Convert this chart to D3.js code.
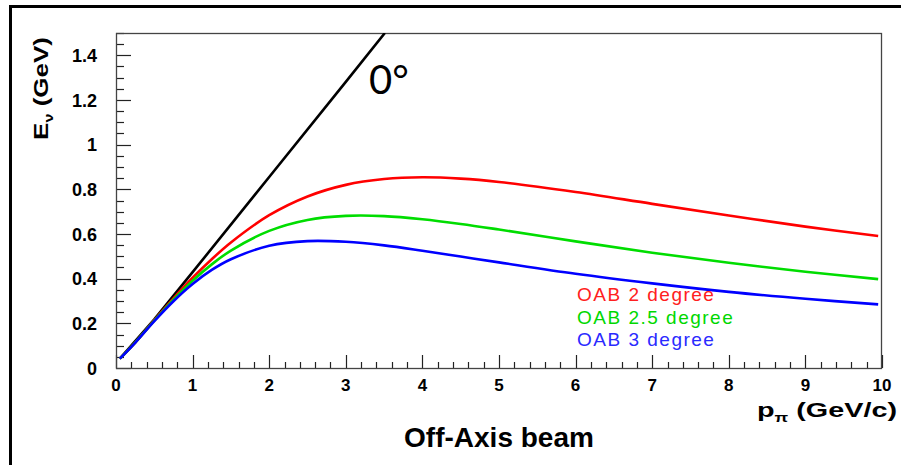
<!DOCTYPE html>
<html>
<head>
<meta charset="utf-8">
<script src="https://cdn.jsdelivr.net/npm/d3@7"></script>
<style>
  html, body { margin: 0; padding: 0; background: #fff; }
  svg { display: block; }
  text { font-family: "Liberation Sans", Arial, Helvetica, sans-serif; }
</style>
</head>
<body>
<svg id="chart" width="901" height="465"></svg>
<script>
// ---- data ----
const pPion = [0.05, 0.25, 0.5, 0.75, 1, 1.25, 1.5, 2, 2.5, 3, 3.5, 4, 4.5, 5, 6, 7, 8, 9, 9.95];
const oab2deg  = [0.042, 0.114, 0.214, 0.312, 0.404, 0.487, 0.562, 0.684, 0.768, 0.820, 0.846, 0.854, 0.848, 0.833, 0.788, 0.735, 0.683, 0.633, 0.591];
const oab25deg = [0.042, 0.114, 0.212, 0.306, 0.391, 0.464, 0.526, 0.614, 0.663, 0.681, 0.680, 0.666, 0.645, 0.620, 0.567, 0.516, 0.471, 0.431, 0.398];
const oab3deg  = [0.042, 0.113, 0.210, 0.299, 0.376, 0.439, 0.487, 0.547, 0.568, 0.565, 0.549, 0.525, 0.499, 0.473, 0.422, 0.379, 0.341, 0.310, 0.285];
const onAxisP = [0.05, 0.5, 1, 2, 3, 3.51];
const onAxisE = [0.042, 0.2175, 0.429, 0.855, 1.281, 1.500];
const xTicks = [0, 1, 2, 3, 4, 5, 6, 7, 8, 9, 10];
const yTicks = [0, 0.2, 0.4, 0.6, 0.8, 1, 1.2, 1.4];
const legendLabels = ["OAB 2 degree", "OAB 2.5 degree", "OAB 3 degree"];
const seriesColors = ["#ff0000", "#00dd00", "#0000ff"];
const legendColors = ["#ff2020", "#00d800", "#2a2aff"];

const svg = d3.select("#chart");
const L = 116, R = 882, T = 33, B = 368;
const x = d3.scaleLinear().domain([0, 10]).range([L, R]);
const y = d3.scaleLinear().domain([0, 1.5]).range([B, T]);

// outer frame lines (top and left)
svg.append("line").attr("x1", 9).attr("x2", 901).attr("y1", 6.5).attr("y2", 6.5)
  .attr("stroke", "#000").attr("stroke-width", 3);
svg.append("line").attr("x1", 10.5).attr("x2", 10.5).attr("y1", 5).attr("y2", 465)
  .attr("stroke", "#000").attr("stroke-width", 3);

// clip
svg.append("defs").append("clipPath").attr("id", "clip")
  .append("rect").attr("x", L).attr("y", T).attr("width", R - L).attr("height", B - T);

// ticks (inward) – x axis
const xMinor = d3.range(0, 10.001, 0.2);
const gx = svg.append("g");
gx.selectAll("line").data(xMinor).join("line")
  .attr("x1", d => Math.round(x(d)) + 0.5).attr("x2", d => Math.round(x(d)) + 0.5)
  .attr("y1", B).attr("y2", d => {
    const isMajor = Math.abs(d - Math.round(d)) < 1e-6;
    return B - (isMajor ? 13 : 6);
  })
  .attr("stroke", "#222").attr("stroke-width", 1.2);
gx.selectAll("text").data(xTicks).join("text")
  .attr("x", d => x(d)).attr("y", 391)
  .attr("text-anchor", "middle").attr("font-size", 17).attr("font-weight", "bold")
  .text(d => d3.format("d")(d));

// ticks (inward) – y axis
const yMinor = d3.range(0, 1.5001, 0.05);
const gy = svg.append("g");
gy.selectAll("line").data(yMinor).join("line")
  .attr("y1", d => Math.round(y(d)) + 0.5).attr("y2", d => Math.round(y(d)) + 0.5)
  .attr("x1", L).attr("x2", d => {
    const isMajor = Math.abs(d / 0.2 - Math.round(d / 0.2)) < 1e-6;
    return L + (isMajor ? 15 : 8);
  })
  .attr("stroke", "#222").attr("stroke-width", 1.2);
gy.selectAll("text").data(yTicks).join("text")
  .attr("x", 97).attr("y", d => y(d) + 6.5)
  .attr("text-anchor", "end").attr("font-size", 18).attr("font-weight", "bold")
  .text(d => d3.format("")(d));

// frame of plot
svg.append("rect").attr("x", L + 0.5).attr("y", T + 0.5).attr("width", R - L - 1).attr("height", B - T)
  .attr("fill", "none").attr("stroke", "#444").attr("stroke-width", 1.3);

// curves
const line = d3.line().x(d => x(d[0])).y(d => y(d[1])).curve(d3.curveCatmullRom.alpha(0.5));
const plot = svg.append("g").attr("clip-path", "url(#clip)");
plot.append("path").datum(d3.zip(onAxisP, onAxisE))
  .attr("d", d3.line().x(d => x(d[0])).y(d => y(d[1])))
  .attr("fill", "none").attr("stroke", "#000").attr("stroke-width", 2.6);
[oab2deg, oab25deg, oab3deg].forEach((vals, i) => {
  plot.append("path").datum(d3.zip(pPion, vals))
    .attr("d", line)
    .attr("fill", "none").attr("stroke", seriesColors[i]).attr("stroke-width", 2.6);
});

// 0° label
svg.append("text").attr("x", 369).attr("y", 94)
  .style("font-family", "Lato, 'Open Sans', sans-serif").attr("font-size", 40)
  .text("0°");

// legend
legendLabels.forEach((t, i) => {
  svg.append("text").attr("x", 577).attr("y", 301 + i * 22.5)
    .attr("font-size", 19).attr("fill", legendColors[i])
    .attr("letter-spacing", 1.5)
    .text(t);
});

// axis titles (stretched to the widths seen in the picture)
const xtG = svg.append("g");
const xt = xtG.append("text").attr("x", 0).attr("y", 0)
  .attr("text-anchor", "end").attr("font-size", 21).attr("font-weight", "bold");
xt.append("tspan").text("p");
xt.append("tspan").attr("font-size", 13).attr("dy", 5).text("π");
xt.append("tspan").attr("dy", -5).text(" (GeV/c)");
const xw = xt.node().getBBox().width;
xtG.attr("transform", `translate(897,417) scale(${140 / xw},1)`);

const ytG = svg.append("g");
const yt = ytG.append("text").attr("x", 0).attr("y", 0)
  .attr("text-anchor", "end").attr("font-size", 21).attr("font-weight", "bold");
yt.append("tspan").text("E");
yt.append("tspan").attr("font-size", 13).attr("dy", 5).text("ν");
yt.append("tspan").attr("dy", -5).text(" (GeV)");
const yw = yt.node().getBBox().width;
ytG.attr("transform", `translate(48,37) rotate(-90) scale(${103 / yw},1)`);

svg.append("text").attr("x", 499).attr("y", 447)
  .attr("text-anchor", "middle").attr("font-size", 28).attr("font-weight", "bold")
  .text("Off-Axis beam");
</script>
</body>
</html>
